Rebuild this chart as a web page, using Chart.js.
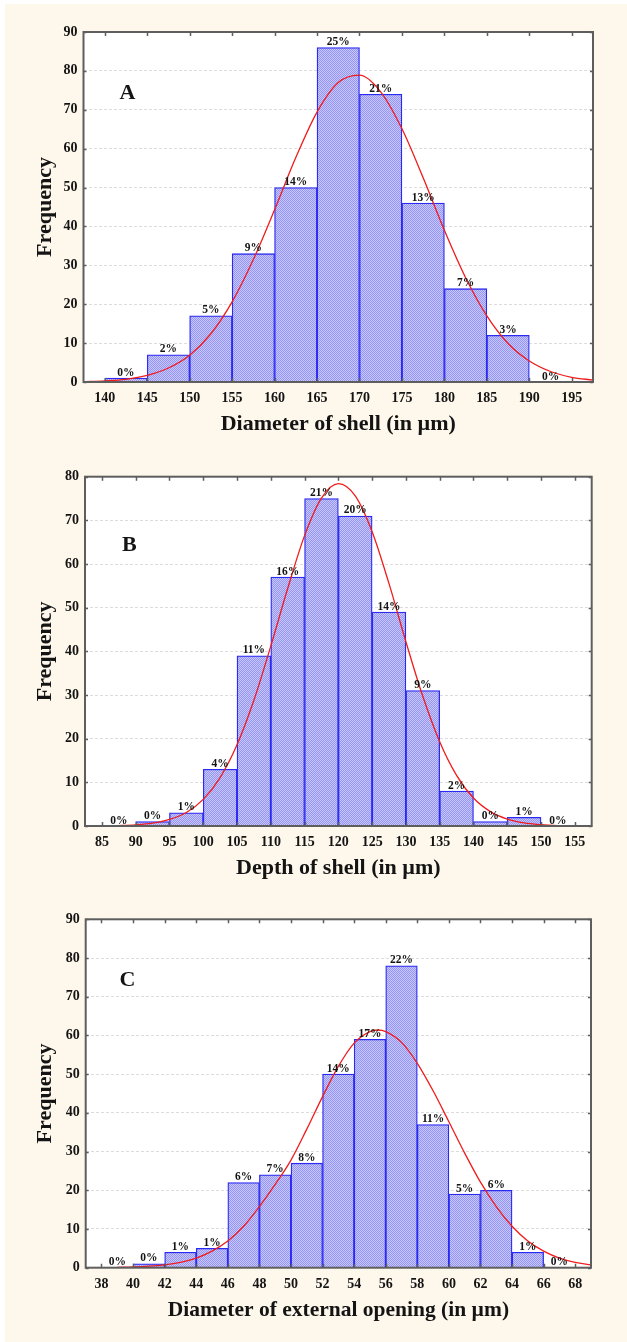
<!DOCTYPE html>
<html><head><meta charset="utf-8">
<script src="https://cdn.jsdelivr.net/npm/chart.js@4.4.1/dist/chart.umd.min.js"></script>
<style>
html,body{margin:0;padding:0;background:#fff;}
#wrap{position:relative;width:627px;height:1342px;background:#fff;overflow:hidden;}
#cream{position:absolute;left:5px;top:4px;right:0;bottom:0;background:#fef8ec;}
canvas{position:absolute;left:0;}
</style></head><body>
<div id="wrap"><div id="cream"></div>
<canvas id="cA" width="627" height="445" style="top:0px;width:627px;height:445px"></canvas>
<canvas id="cB" width="627" height="445" style="top:445px;width:627px;height:445px"></canvas>
<canvas id="cC" width="627" height="452" style="top:890px;width:627px;height:452px"></canvas>
</div>
<script>
// ---------- text ----------
const panelLetters = ['A', 'B', 'C'];
const yTitle = 'Frequency';
const xTitles = ['Diameter of shell (in µm)', 'Depth of shell (in µm)', 'Diameter of external opening (in µm)'];

// ---------- panel A ----------
const binStartsA = [140, 145, 150, 155, 160, 165, 170, 175, 180, 185, 190];
const countsA    = [1, 7, 17, 33, 50, 86, 74, 46, 24, 12, 0];
const percentA   = ['0%', '2%', '5%', '9%', '14%', '25%', '21%', '13%', '7%', '3%', '0%'];
const curveXA = [137.5, 140, 142.5, 145, 147.5, 150, 152.5, 155, 157.5, 160, 162.5, 165, 167.5, 170, 172.5, 175, 177.5, 180, 182.5, 185, 187.5, 190, 192.5, 195, 197.5];
const curveYA = [0.1, 0.3, 0.7, 1.7, 3.6, 6.9, 12.4, 20.6, 31.5, 44.3, 57.7, 69.4, 77.0, 78.9, 74.6, 65.1, 52.5, 39.0, 26.8, 17.0, 9.9, 5.4, 2.7, 1.2, 0.5];
const xTicksA = [140, 145, 150, 155, 160, 165, 170, 175, 180, 185, 190, 195];
const yTicksA = [0, 10, 20, 30, 40, 50, 60, 70, 80, 90];

// ---------- panel B ----------
const binStartsB = [85, 90, 95, 100, 105, 110, 115, 120, 125, 130, 135, 140, 145, 150];
const countsB    = [0, 1, 3, 13, 39, 57, 75, 71, 49, 31, 8, 1, 2, 0];
const percentB   = ['0%', '0%', '1%', '4%', '11%', '16%', '21%', '20%', '14%', '9%', '2%', '0%', '1%', '0%'];
const curveXB = [86, 87.5, 90, 92.5, 95, 97.5, 100, 102.5, 105, 107.5, 110, 112.5, 115, 117.5, 120, 122.5, 125, 127.5, 130, 132.5, 135, 137.5, 140, 142.5, 145, 147.5, 150, 152.5, 154];
const curveYB = [0.05, 0.1, 0.26, 0.64, 1.5, 3.1, 6.1, 11.1, 18.6, 28.8, 41.2, 54.4, 66.5, 75.1, 78.4, 75.6, 67.4, 55.5, 42.2, 29.7, 19.3, 11.6, 6.4, 3.3, 1.6, 0.7, 0.3, 0.1, 0.05];
const xTicksB = [85, 90, 95, 100, 105, 110, 115, 120, 125, 130, 135, 140, 145, 150, 155];
const yTicksB = [0, 10, 20, 30, 40, 50, 60, 70, 80];

// ---------- panel C ----------
const binStartsC = [38, 40, 42, 44, 46, 48, 50, 52, 54, 56, 58, 60, 62, 64, 66];
const countsC    = [0, 1, 4, 5, 22, 24, 27, 50, 59, 78, 37, 19, 20, 4, 0];
const percentC   = ['0%', '0%', '1%', '1%', '6%', '7%', '8%', '14%', '17%', '22%', '11%', '5%', '6%', '1%', '0%'];
const curveXC = [39, 40, 41, 42, 43, 44, 45, 46, 47, 48, 49, 50, 51, 52, 53, 54, 55, 55.5, 56, 57, 58, 59, 60, 61, 62, 63, 64, 65, 66, 67, 68, 69];
const curveYC = [0.1, 0.2, 0.4, 0.75, 1.4, 2.5, 4.3, 6.9, 10.7, 15.8, 21.5, 27.8, 35.8, 44.2, 52.0, 58.0, 61.0, 61.4, 61.0, 58.2, 52.8, 45.7, 37.7, 29.6, 22.1, 15.8, 10.7, 6.9, 4.3, 2.5, 1.4, 0.75];
const xTicksC = [38, 40, 42, 44, 46, 48, 50, 52, 54, 56, 58, 60, 62, 64, 66, 68];
const yTicksC = [0, 10, 20, 30, 40, 50, 60, 70, 80, 90];

const SERIF = "'Liberation Serif', 'Times New Roman', serif";
const TXT = '#141414';

function makePattern(ctx) {
  const c = document.createElement('canvas');
  c.width = 2; c.height = 2;
  const g = c.getContext('2d');
  g.fillStyle = '#c8c8fc'; g.fillRect(0, 0, 2, 2);
  g.fillStyle = '#9494f4'; g.fillRect(0, 0, 1, 1); g.fillRect(1, 1, 1, 1);
  return ctx.createPattern(c, 'repeat');
}

function build(id, o) {
  const canvas = document.getElementById(id);
  const ctx = canvas.getContext('2d');
  const H = canvas.height;
  const bw = o.bins[1] - o.bins[0];
  const bars = o.bins.map((b, i) => ({ x: b + bw / 2, y: o.counts[i] === 0 ? null : o.counts[i] }));
  const curve = o.cx.map((x, i) => ({ x: x, y: o.cy[i] }));

  const deco = {
    id: 'deco_' + id,
    beforeDraw(chart) {
      const a = chart.chartArea, c = chart.ctx;
      c.save(); c.fillStyle = '#ffffff';
      c.fillRect(a.left, a.top, a.right - a.left, a.bottom - a.top);
      c.restore();
    },
    afterDatasetsDraw(chart) {
      const a = chart.chartArea, c = chart.ctx;
      const xs = chart.scales.x, ys = chart.scales.y;
      c.save();
      c.font = 'bold 11.5px ' + SERIF;
      c.fillStyle = TXT; c.textAlign = 'center'; c.textBaseline = 'alphabetic';
      o.bins.forEach((b, i) => {
        const px = xs.getPixelForValue(b + bw / 2);
        const py = ys.getPixelForValue(o.counts[i]) - 2.5;
        c.fillText(o.pct[i], px, py);
      });
      c.font = 'bold 22px ' + SERIF;
      c.fillText(o.letter, o.letterPos[0], o.letterPos[1]);
      c.strokeStyle = '#5e5e5e'; c.lineWidth = 2;
      c.strokeRect(a.left, a.top, a.right - a.left, a.bottom - a.top);
      c.lineWidth = 1.5; c.beginPath();
      o.xt.forEach(v => {
        const px = Math.round(xs.getPixelForValue(v)) + 0.5;
        c.moveTo(px, a.top); c.lineTo(px, a.top + 4);
        c.moveTo(px, a.bottom); c.lineTo(px, a.bottom - 4);
      });
      o.yt.forEach(v => {
        const py = Math.round(ys.getPixelForValue(v)) + 0.5;
        c.moveTo(a.left, py); c.lineTo(a.left + 3, py);
        c.moveTo(a.right, py); c.lineTo(a.right - 3, py);
      });
      c.stroke();
      c.restore();
    }
  };

  return new Chart(ctx, {
    type: 'bar',
    data: {
      datasets: [
        { type: 'bar', data: bars, backgroundColor: makePattern(ctx), borderColor: '#2a2af2', borderWidth: 1.3,
          barPercentage: 1, categoryPercentage: 1, grouped: false, order: 2 },
        { type: 'line', data: curve, borderColor: '#f01c1c', borderWidth: 1.3, pointRadius: 0,
          cubicInterpolationMode: 'monotone', fill: false, order: 1 }
      ]
    },
    options: {
      responsive: false, animation: false, devicePixelRatio: 1,
      layout: { padding: { top: o.plotTop, right: 627 - o.plotRight, left: 0, bottom: 0 } },
      plugins: { legend: { display: false }, tooltip: { enabled: false } },
      scales: {
        x: {
          type: 'linear', min: o.xmin, max: o.xmax, offset: false,
          afterBuildTicks: s => { s.ticks = o.xt.map(v => ({ value: v })); },
          afterFit: s => { s.height = H - o.plotBottom; },
          ticks: { autoSkip: false, maxRotation: 0, padding: 8, color: TXT,
                   font: { family: SERIF, weight: 'bold', size: 14 }, callback: v => String(v) },
          grid: { display: false, drawTicks: false, offset: false },
          border: { display: false },
          title: { display: true, text: o.xTitle, color: TXT,
                   font: { family: SERIF, weight: 'bold', size: o.xTitleSize, lineHeight: 1.2 },
                   padding: { top: 0, bottom: o.xTitlePad } }
        },
        y: {
          min: 0, max: o.ymax,
          afterBuildTicks: s => { s.ticks = o.yt.map(v => ({ value: v })); },
          afterFit: s => { s.width = o.plotLeft; },
          ticks: { padding: 6, color: TXT, font: { family: SERIF, weight: 'bold', size: 14 } },
          grid: { color: '#dcdcdc', lineWidth: 1, drawTicks: false },
          border: { display: false, dash: [3, 2] },
          title: { display: true, text: yTitle, color: TXT,
                   font: { family: SERIF, weight: 'bold', size: 22, lineHeight: 1.2 },
                   padding: { top: 31.8, bottom: 0 } }
        }
      }
    },
    plugins: [deco]
  });
}

build('cA', { bins: binStartsA, counts: countsA, pct: percentA, cx: curveXA, cy: curveYA, xt: xTicksA, yt: yTicksA,
  xmin: 137.5, xmax: 197.5, ymax: 90, xTitle: xTitles[0], xTitleSize: 22, letter: panelLetters[0], letterPos: [127.5, 99],
  plotLeft: 83.5, plotRight: 593, plotTop: 32, plotBottom: 382, xTitlePad: 7.8 });
build('cB', { bins: binStartsB, counts: countsB, pct: percentB, cx: curveXB, cy: curveYB, xt: xTicksB, yt: yTicksB,
  xmin: 82.5, xmax: 157.5, ymax: 80, xTitle: xTitles[1], xTitleSize: 22, letter: panelLetters[1], letterPos: [129.3, 106],
  plotLeft: 85, plotRight: 591.7, plotTop: 31.7, plotBottom: 381, xTitlePad: 8.8 });
build('cC', { bins: binStartsC, counts: countsC, pct: percentC, cx: curveXC, cy: curveYC, xt: xTicksC, yt: yTicksC,
  xmin: 37, xmax: 69, ymax: 90, xTitle: xTitles[2], xTitleSize: 21.5, letter: panelLetters[2], letterPos: [127.5, 96],
  plotLeft: 85.7, plotRight: 591, plotTop: 29.3, plotBottom: 377.7, xTitlePad: 19.1 });
</script>
</body></html>
